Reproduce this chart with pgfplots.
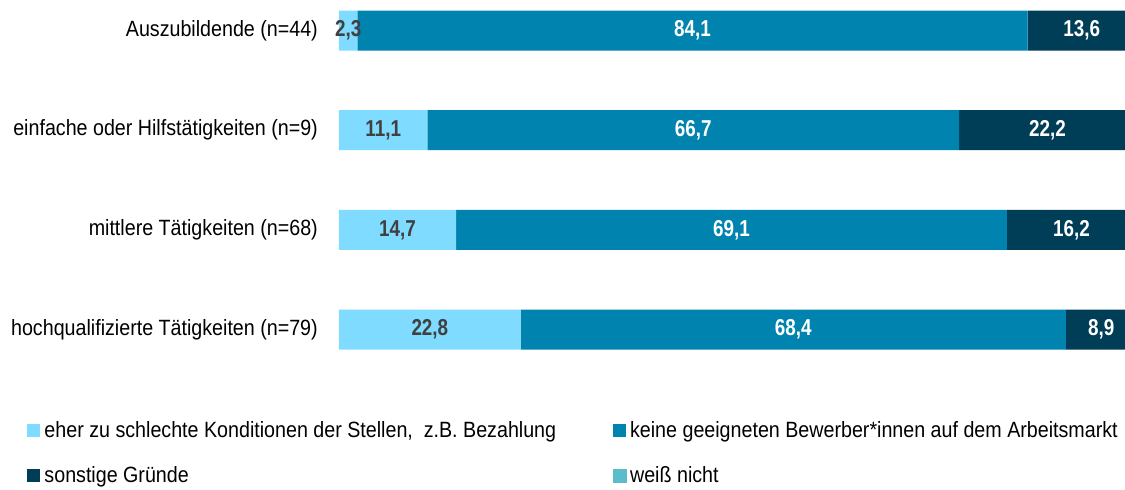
\documentclass[border=0pt]{standalone}
\usepackage{fontspec}
\setmainfont{Liberation Sans}[FakeStretch=0.89]
\newfontfamily\blfont{Liberation Sans Bold}[FakeStretch=0.82]
\usepackage{pgfplots}
\usepackage{pgfplotstable}
\pgfplotsset{compat=1.18}
\definecolor{cLight}{HTML}{7FDBFF}
\definecolor{cMid}{HTML}{0083AE}
\definecolor{cDark}{HTML}{003D57}
\definecolor{cWeiss}{HTML}{5BBCCB}
\definecolor{cLab}{HTML}{404040}
\newcommand\f{\fontsize{22.1pt}{25pt}\selectfont}
\newcommand\fb{\blfont\fontsize{23pt}{26pt}\selectfont}
\pgfplotstableread{
cat a b c
0 2.3 84.1 13.6
1 11.1 66.7 22.2
2 14.7 69.1 16.2
3 22.8 68.4 8.9
}\data
\pgfplotsset{
 geom/.style={at={(339pt,19.35pt)}, anchor=north west, scale only axis, width=797pt, height=398.8pt,
   xmin=0, xmax=100, ymin=-0.5, ymax=3.5, y dir=reverse, clip=false},
 sq/.style={legend image code/.code={\fill[#1] (0pt,-6.5pt) rectangle (13pt,6.5pt);}},
 lab/.style={draw=none, mark=none, nodes near coords={\pgfmathprintnumber[fixed,fixed zerofill,precision=1,use comma,assume math mode=true]{\pgfplotspointmeta}},
   point meta=explicit, every node near coord/.style={anchor=center, inner sep=0pt, font=\fb, text=#1}},
}
\begin{document}
\begin{tikzpicture}
\useasboundingbox (0,0) rectangle (1125pt,-490pt);
\clip (0,0) rectangle (1125pt,-490pt);
\begin{axis}[geom, xbar stacked, bar width=40pt,
  axis line style={draw=none}, tick style={draw=none}, major tick length=0pt,
  xtick=\empty, ytick={0,1,2,3},
  yticklabels={{Auszubildende (n=44)},{einfache oder Hilfstätigkeiten (n=9)},{mittlere Tätigkeiten (n=68)},{hochqualifizierte Tätigkeiten (n=79)}},
  yticklabel style={font=\f, inner sep=0pt, xshift=-21pt},
  legend columns=2, legend cell align=left,
  legend style={at={(-0.3911,-0.1047)}, anchor=north west, draw=none, fill=none, inner sep=0pt, font=\f,
    nodes={inner sep=0pt}, /tikz/every odd column/.style={column sep=4pt},
    /tikz/every even column/.style={column sep=56.5pt}, row sep=28pt}]
\addplot[fill=cLight, draw=none, sq=cLight] table[x=a,y=cat]{\data};
\addlegendentry{eher zu schlechte Konditionen der Stellen, \ z.B. Bezahlung}
\addplot[fill=cMid, draw=none, sq=cMid] table[x=b,y=cat]{\data};
\addlegendentry{keine geeigneten Bewerber*innen auf dem Arbeitsmarkt}
\addplot[fill=cDark, draw=none, sq=cDark] table[x=c,y=cat]{\data};
\addlegendentry{sonstige Gründe}
\addlegendimage{sq=cWeiss}
\addlegendentry{weiß nicht}
\end{axis}
\begin{axis}[geom, hide axis]
\addplot[lab=cLab] table[x expr=\thisrow{a}/2, y=cat, meta=a]{\data};
\addplot[lab=white] table[x expr=\thisrow{a}+\thisrow{b}/2, y=cat, meta=b]{\data};
\addplot[lab=white] table[x expr=\thisrow{a}+\thisrow{b}+\thisrow{c}/2, y=cat, meta=c]{\data};
\end{axis}
\end{tikzpicture}
\end{document}
